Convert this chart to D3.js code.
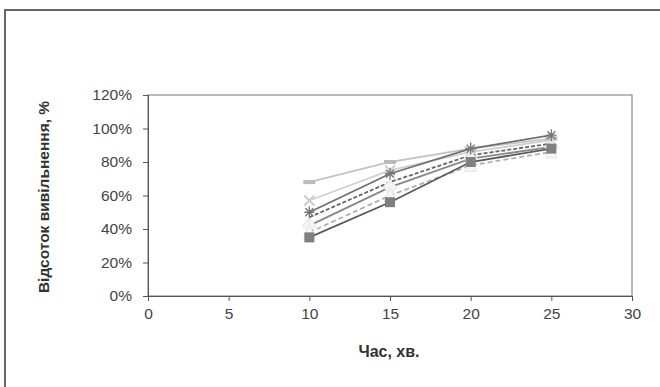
<!DOCTYPE html>
<html><head><meta charset="utf-8">
<script src="https://cdn.jsdelivr.net/npm/d3@7"></script>
<style>body{margin:0;background:#fff}svg{display:block}</style>
</head><body>
<svg id="c" width="660" height="387"></svg>
<script>
const times = [10, 15, 20, 25];
const xTicks = [0, 5, 10, 15, 20, 25, 30];
const yTicks = [0, 20, 40, 60, 80, 100, 120];
const s1 = [68, 80, 88, 94];
const s2 = [50, 73, 88, 96];
const s3 = [57, 75, 86, 93];
const s4 = [47, 68, 84, 91];
const s5 = [42, 65, 82, 89];
const s6 = [38, 60, 78, 86];
const s7 = [35, 56, 80, 88];
const seriesList = [
  {v: s1, stroke: "#c4c4c4", marker: "dash", dash: null},
  {v: s3, stroke: "#d0d0d0", marker: "cross", dash: null},
  {v: s4, stroke: "#666", marker: "none", dash: "4,2"},
  {v: s5, stroke: "#888", marker: "diamond", dash: null},
  {v: s6, stroke: "#b0b0b0", marker: "triangle", dash: "5,3"},
  {v: s7, stroke: "#5a5a5a", marker: "square", dash: null},
  {v: s2, stroke: "#707070", marker: "star", dash: null}
];

const svg = d3.select("#c");
svg.append("rect").attr("x", 5).attr("y", 10).attr("width", 700).attr("height", 400)
  .attr("fill", "none").attr("stroke", "#666").attr("stroke-width", 2);

const x = d3.scaleLinear().domain([0, 30]).range([148, 632]);
const y = d3.scaleLinear().domain([0, 120]).range([296, 95]);

svg.append("rect").attr("x", 148).attr("y", 95).attr("width", 484).attr("height", 201)
  .attr("fill", "none").attr("stroke", "#777").attr("stroke-width", 1);

const font = "'Liberation Sans', Arial, sans-serif";
const gx = svg.append("g").attr("transform", "translate(0,296)")
  .call(d3.axisBottom(x).tickValues(xTicks).tickSize(5).tickPadding(7));
const gy = svg.append("g").attr("transform", "translate(148,0)")
  .call(d3.axisLeft(y).tickValues(yTicks).tickSize(5).tickPadding(11).tickFormat(d => d + "%"));
[gx, gy].forEach(g => {
  g.select(".domain").attr("stroke", "#555");
  g.selectAll(".tick line").attr("stroke", "#555");
  g.selectAll("text").attr("font-family", font).attr("font-size", 15.5).attr("fill", "#444");
});

const line = d3.line().x((d, i) => x(times[i])).y(d => y(d));
seriesList.forEach(s => {
  svg.append("path").datum(s.v).attr("d", line).attr("fill", "none")
    .attr("stroke", s.stroke).attr("stroke-width", 1.8).attr("stroke-dasharray", s.dash);
  s.v.forEach((v, i) => {
    const cx = x(times[i]), cy = y(v);
    const g = svg.append("g").attr("transform", `translate(${cx},${cy})`);
    if (s.marker === "dash") g.append("rect").attr("x", -6).attr("y", -2).attr("width", 12).attr("height", 4).attr("fill", "#bbb");
    else if (s.marker === "cross") g.append("path").attr("d", "M-5,-5L5,5M-5,5L5,-5").attr("stroke", "#ccc").attr("stroke-width", 2);
    else if (s.marker === "diamond") g.append("path").attr("d", "M0,-7L7,0L0,7L-7,0Z").attr("fill", "#f4f4f4").attr("stroke", "#e0e0e0");
    else if (s.marker === "triangle") g.append("path").attr("d", "M0,-8L6,6L-6,6Z").attr("fill", "#f6f6f6").attr("stroke", "#e6e6e6");
    else if (s.marker === "square") g.append("rect").attr("x", -5).attr("y", -5).attr("width", 10).attr("height", 10).attr("fill", "#808080");
    else if (s.marker === "star") g.append("path").attr("d", "M-5,0L5,0M0,-6L0,6M-4,-4L4,4M-4,4L4,-4").attr("stroke", "#777").attr("stroke-width", 1.3);
  });
});

svg.append("text").attr("x", 389).attr("y", 357).attr("text-anchor", "middle")
  .attr("font-family", font).attr("font-size", 16).attr("font-weight", "bold").attr("fill", "#333")
  .text("Час, хв.");
svg.append("text").attr("transform", "translate(49,197) rotate(-90)").attr("text-anchor", "middle")
  .attr("font-family", font).attr("font-size", 15.5).attr("font-weight", "bold").attr("fill", "#333")
  .text("Відсоток вивільнення, %");
</script>
</body></html>
